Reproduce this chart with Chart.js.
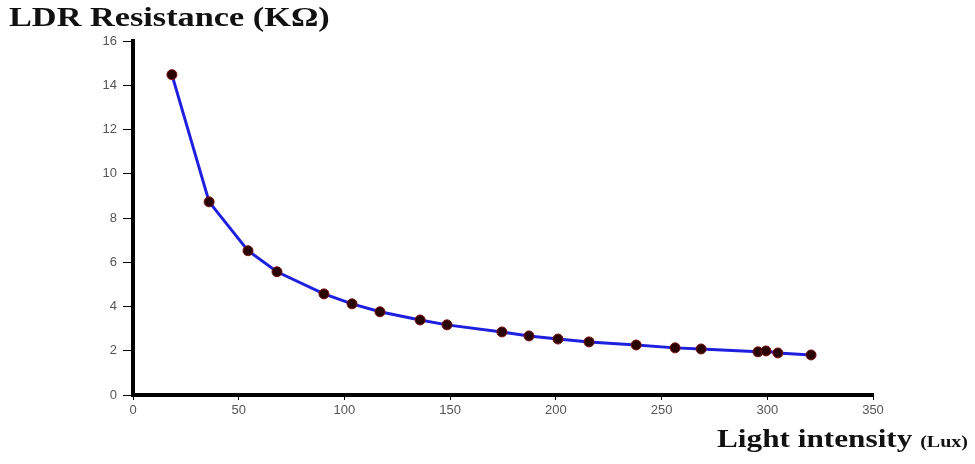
<!DOCTYPE html>
<html>
<head>
<meta charset="utf-8">
<script src="https://cdn.jsdelivr.net/npm/chart.js@4/dist/chart.umd.min.js"></script>
<style>
  html, body { margin: 0; padding: 0; background: #fff; }
  #wrap { position: relative; width: 975px; height: 464px; }
  #ldr-chart { position: absolute; left: 0; top: 0; }
  .ttl { position: absolute; font-family: "Liberation Serif", "Times New Roman", serif; font-weight: bold; color: #111; white-space: nowrap; transform-origin: left top; }
  #y-title { left: 9px; top: 2px; font-size: 27px; transform: scaleX(1.27); }
  #x-title { left: 717px; top: 425px; font-size: 25px; transform: scaleX(1.25); }
  #x-title span { font-size: 16px; }
</style>
</head>
<body>
<div id="wrap">
  <canvas id="ldr-chart" width="975" height="464"></canvas>
  <div class="ttl" id="y-title">LDR Resistance (KΩ)</div>
  <div class="ttl" id="x-title">Light intensity <span>(Lux)</span></div>
</div>
<script>
    const luxValues = [18.4, 36, 54.4, 68.1, 90.3, 103.6, 116.8, 135.8, 148.5, 174.5, 187.3, 201, 215.7, 238, 256.4, 268.7, 295.6, 299.4, 305, 320.7];
    const resistanceValues = [14.48, 8.73, 6.52, 5.57, 4.57, 4.12, 3.76, 3.39, 3.17, 2.85, 2.67, 2.53, 2.4, 2.26, 2.13, 2.08, 1.95, 1.99, 1.9, 1.81];
    const xTicks = [0, 50, 100, 150, 200, 250, 300, 350];
    const yTicks = [0, 2, 4, 6, 8, 10, 12, 14, 16];

    const points = luxValues.map((x, i) => ({ x: x, y: resistanceValues[i] }));

    const ctx = document.getElementById('ldr-chart').getContext('2d');
    const ldrChart = new Chart(ctx, {
        type: 'scatter',
        data: {
            datasets: [{
                data: points,
                showLine: true,
                borderColor: '#1f1fe0',
                borderWidth: 3,
                tension: 0,
                pointRadius: 5,
                pointBackgroundColor: '#2a0404',
                pointBorderColor: '#7a1010',
                pointBorderWidth: 1
            }]
        },
        options: {
            responsive: false,
            animation: false,
            layout: { padding: { top: 41, right: 102, left: 0, bottom: 0 } },
            plugins: {
                legend: { display: false },
                tooltip: { enabled: false }
            },
            scales: {
                x: {
                    type: 'linear',
                    min: 0,
                    max: 350,
                    afterFit: (scale) => { scale.height = 69; },
                    afterBuildTicks: (scale) => { scale.ticks = xTicks.map(v => ({ value: v })); },
                    border: { display: true, color: '#000', width: 4 },
                    grid: { drawOnChartArea: false, drawTicks: true, tickLength: 5, color: '#000', lineWidth: 1 },
                    ticks: { color: '#555', font: { family: 'Liberation Sans, Arial', size: 13 }, padding: 3, maxRotation: 0 }
                },
                y: {
                    type: 'linear',
                    min: 0,
                    max: 16,
                    afterFit: (scale) => { scale.width = 133; },
                    afterBuildTicks: (scale) => { scale.ticks = yTicks.map(v => ({ value: v })); },
                    border: { display: true, color: '#000', width: 4 },
                    grid: { drawOnChartArea: false, drawTicks: true, tickLength: 10, color: '#000', lineWidth: 1 },
                    ticks: { color: '#555', font: { family: 'Liberation Sans, Arial', size: 13 }, padding: 6 }
                }
            }
        }
    });
</script>
</body>
</html>
